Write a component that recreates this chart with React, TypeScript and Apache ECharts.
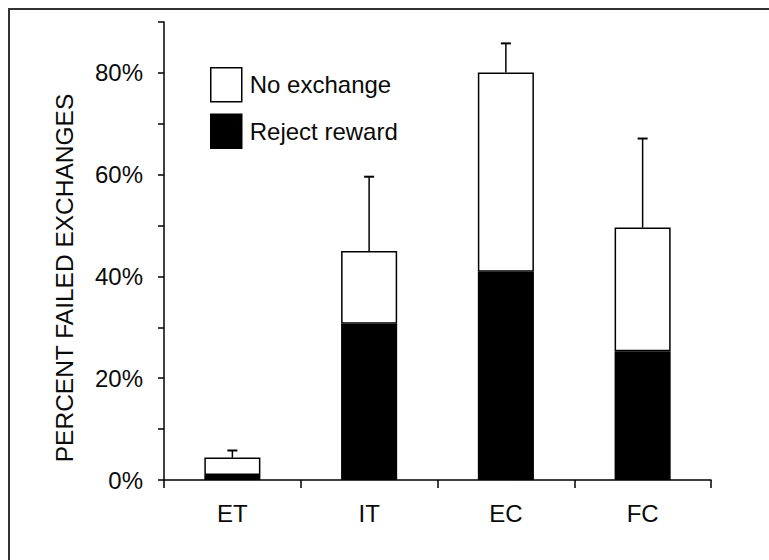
import React, { useEffect, useRef } from "react";
import * as echarts from "echarts";

const categories = ["ET", "IT", "EC", "FC"];
const rejectReward = [1.0, 30.7, 40.9, 25.3];
const noExchange = [3.4, 14.3, 39.2, 24.3];
const errorUpper = [1.4, 14.6, 5.7, 17.5];
const yMin = 0;
const yMax = 90;
const yInterval = 10;
const yTitle = "PERCENT FAILED EXCHANGES";

const FONT = "'Liberation Sans', Arial, Helvetica, sans-serif";

export default function App() {
  const ref = useRef<HTMLDivElement>(null);
  useEffect(() => {
    if (!ref.current) return;
    const chart = echarts.init(ref.current, undefined, { renderer: "svg" });
    const errData = categories.map((c, i) => [i, rejectReward[i] + noExchange[i], errorUpper[i]]);
    chart.setOption({
      animation: false,
      backgroundColor: "#fff",
      textStyle: { fontFamily: FONT },
      grid: { left: 164, right: 58, top: 22, bottom: 80 },
      legend: {
        orient: "vertical",
        left: 205,
        top: 62,
        itemWidth: 31,
        itemHeight: 34,
        itemGap: 11,
        selectedMode: false,
        data: [
          { name: "No exchange", icon: "rect", itemStyle: { color: "#fff", borderColor: "#000", borderWidth: 1.5 } },
          { name: "Reject reward", icon: "rect", itemStyle: { color: "#000", borderColor: "#000", borderWidth: 1.5 } },
        ],
        textStyle: { fontSize: 24, color: "#0a0a0a", fontFamily: FONT, padding: [0, 0, 0, 3] },
      },
      xAxis: {
        type: "category",
        data: categories,
        boundaryGap: true,
        axisLine: { lineStyle: { color: "#000", width: 1.5 } },
        axisTick: { show: true, length: 8, interval: 0, lineStyle: { color: "#000", width: 1.5 } },
        axisLabel: { fontSize: 24, color: "#0a0a0a", margin: 21, fontFamily: FONT },
      },
      yAxis: {
        type: "value",
        min: yMin,
        max: yMax,
        interval: yInterval,
        splitLine: { show: false },
        axisLine: { show: true, lineStyle: { color: "#000", width: 1.5 } },
        axisTick: { show: true, length: 6, lineStyle: { color: "#000", width: 1.5 } },
        axisLabel: {
          fontSize: 24,
          color: "#0a0a0a",
          margin: 21,
          fontFamily: FONT,
          formatter: (v: number) => (v % 20 === 0 ? v + "%" : ""),
        },
      },
      graphic: [
        {
          type: "rect",
          shape: { x: 9, y: 9, width: 900, height: 900 },
          style: { fill: "none", stroke: "#333", lineWidth: 2 },
          silent: true,
        },
        {
          type: "text",
          x: 64,
          y: 278,
          rotation: Math.PI / 2,
          style: {
            text: yTitle,
            fontSize: 24.5,
            fontFamily: FONT,
            fill: "#0a0a0a",
            align: "center",
            verticalAlign: "middle",
          },
        },
      ],
      series: [
        {
          name: "Reject reward",
          type: "bar",
          stack: "a",
          barWidth: "41%",
          data: rejectReward,
          itemStyle: { color: "#000", borderColor: "#000", borderWidth: 1.5 },
        },
        {
          name: "No exchange",
          type: "bar",
          stack: "a",
          barWidth: "41%",
          data: noExchange,
          itemStyle: { color: "#fff", borderColor: "#000", borderWidth: 1.5 },
        },
        {
          name: "err",
          type: "custom",
          encode: { x: 0, y: 1 },
          data: errData,
          z: 3,
          renderItem: (params: any, api: any) => {
            const idx = api.value(0);
            const total = api.value(1);
            const err = api.value(2);
            const base = api.coord([idx, total]);
            const top = api.coord([idx, total + err]);
            return {
              type: "group",
              children: [
                {
                  type: "line",
                  shape: { x1: base[0], y1: base[1], x2: top[0], y2: top[1] },
                  style: { stroke: "#000", lineWidth: 1.5 },
                },
                {
                  type: "line",
                  shape: { x1: top[0] - 5, y1: top[1], x2: top[0] + 5, y2: top[1] },
                  style: { stroke: "#000", lineWidth: 2 },
                },
              ],
            };
          },
        },
      ],
    });
    return () => chart.dispose();
  }, []);
  return (
    <div
      ref={ref}
      style={{ position: "absolute", left: 0, top: 0, width: 769, height: 560 }}
    />
  );
}
